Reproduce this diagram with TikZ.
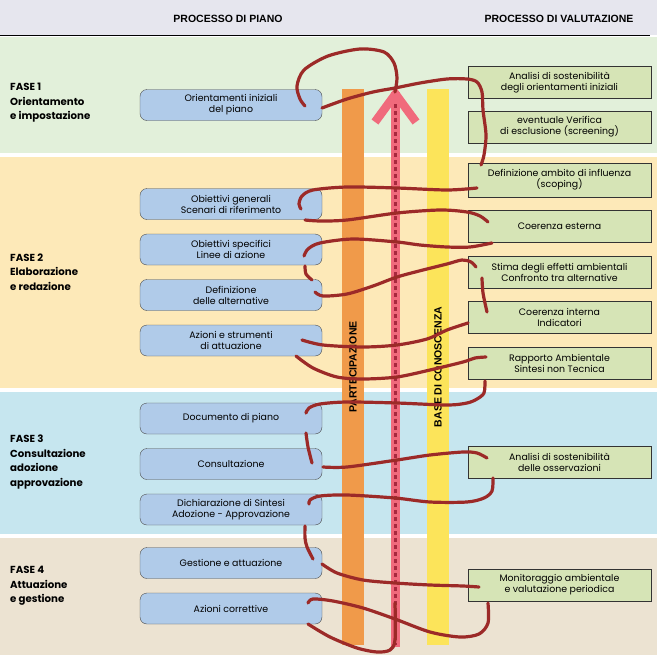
\documentclass[tikz,border=0pt]{standalone}
\usepackage{fontspec}
\setmainfont{Poppins}
\newfontfamily\titlefont{Liberation Sans}
\usetikzlibrary{positioning}

\definecolor{headgrey}{HTML}{E6E6EE}
\definecolor{fase1col}{HTML}{E2F0DA}
\definecolor{fase2col}{HTML}{FDE9B8}
\definecolor{fase3col}{HTML}{C6E6EF}
\definecolor{fase4col}{HTML}{ECE3D2}
\definecolor{pianoblue}{HTML}{B0CBE9}
\definecolor{valutgreen}{HTML}{D6E4B6}
\definecolor{barorange}{HTML}{F09A4A}
\definecolor{baryellow}{HTML}{FCE45A}
\definecolor{arrowpink}{HTML}{F06A7C}
\definecolor{dotred}{HTML}{A8283E}
\definecolor{spiralred}{HTML}{9C2A28}

\tikzstyle{piano} = [rectangle, rounded corners=7pt, minimum width=182pt, minimum height=31pt, align=center, inner sep=1pt, draw=black!70, fill=pianoblue, font=\fontsize{9.4}{11}\selectfont]
\tikzstyle{valut} = [rectangle, minimum width=183pt, minimum height=32pt, align=center, inner sep=1pt, draw=black!80, fill=valutgreen, font=\fontsize{9.4}{11}\selectfont]
\tikzstyle{fase} = [anchor=west, align=left, inner sep=0pt, font=\bfseries\fontsize{10.2}{14.5}\selectfont]
\tikzstyle{titolo} = [inner sep=0pt, font=\titlefont\bfseries\fontsize{10.5}{12}\selectfont]
\tikzstyle{barra} = [rotate=90, minimum width=556pt, minimum height=22pt, inner sep=0pt, font=\titlefont\bfseries\fontsize{10.5}{12}\selectfont]
\tikzstyle{spirale} = [spiralred, line width=3.2pt, line cap=round, line join=round]

\begin{document}
\begin{tikzpicture}[x=1pt, y=-1pt, node distance=45.5pt]
\useasboundingbox (0,0) rectangle (662,659);

% fasce
\fill [headgrey] (0,0) rectangle (657,35);
\fill [fase1col] (0,37) rectangle (657,153);
\fill [fase2col] (0,157) rectangle (657,388);
\fill [fase3col] (0,392) rectangle (657,534);
\fill [fase4col] (0,538) rectangle (657,655);
\draw [line width=1pt] (0,35) -- (650,35);

\node (titpiano) [titolo] at (228,19) {PROCESSO DI PIANO};
\node (titvalut) [titolo] at (559,19) {PROCESSO DI VALUTAZIONE};

\node (fase1) [fase] at (10,103) {FASE 1\\Orientamento\\e impostazione};
\node (fase2) [fase] at (10,272) {FASE 2\\Elaborazione\\e redazione};
\node (fase3) [fase] at (10,462) {FASE 3\\Consultazione\\adozione\\approvazione};
\node (fase4) [fase] at (10,586) {FASE 4\\Attuazione\\e gestione};

% barre verticali
\node (partecip) [barra, fill=barorange] at (353,367) {PARTECIPAZIONE};
\node (conosc) [barra, fill=baryellow] at (438,367) {BASE DI CONOSCENZA};
\draw [arrowpink, line width=9pt] (395.5,647) -- (395.5,92);
\draw [dotred, line width=2.6pt, dash pattern=on 3.5pt off 3.5pt] (395.5,97) -- (395.5,645);
\draw [arrowpink, line width=8.5pt, miter limit=20] (375,122) -- (395.5,94) -- (416,122);

% processo di piano
\node (orient) [piano] at (231,105) {Orientamenti iniziali\\del piano};
\node (obgen) [piano] at (231,204) {Obiettivi generali\\Scenari di riferimento};
\node (obspec) [piano, below of=obgen] {Obiettivi specifici\\Linee di azione};
\node (altern) [piano, below of=obspec] {Definizione\\delle alternative};
\node (azioni) [piano, below of=altern] {Azioni e strumenti\\di attuazione};
\node (documento) [piano] at (231,418.5) {Documento di piano};
\node (consult) [piano, below of=documento] {Consultazione};
\node (dichiar) [piano, below of=consult] {Dichiarazione di Sintesi\\Adozione - Approvazione};
\node (gestione) [piano] at (231,563) {Gestione e attuazione};
\node (correttive) [piano, below of=gestione] {Azioni correttive};

% processo di valutazione
\node (sostenib) [valut] at (559.5,82.5) {Analisi di sostenibilità\\degli orientamenti iniziali};
\node (screening) [valut, below of=sostenib, node distance=44.5pt] {eventuale Verifica\\di esclusione (screening)};
\node (scoping) [valut, minimum height=34pt] at (559.5,180) {Definizione ambito di influenza\\(scoping)};
\node (esterna) [valut, below of=scoping, node distance=46.5pt] {Coerenza esterna};
\node (stima) [valut, below of=esterna] {Stima degli effetti ambientali\\Confronto tra alternative};
\node (interna) [valut, below of=stima] {Coerenza interna\\Indicatori};
\node (rapporto) [valut, below of=interna] {Rapporto Ambientale\\Sintesi non Tecnica};
\node (osserv) [valut] at (559.5,462.5) {Analisi di sostenibilità\\delle osservazioni};
\node (monitor) [valut] at (559.5,585) {Monitoraggio ambientale\\e valutazione periodica};

% spirale
\draw [spirale] plot [smooth] coordinates {(305,106) (300,99) (297,86) (304,70) (328,56) (360,49) (384,52) (394,63) (397,78) (395,92)};
\draw [spirale] plot [smooth] coordinates {(322,108) (347,99) (373,92) (395,88) (420,83) (447,79) (467,79) (477,82) (482,92) (483,110) (486,135) (484,155) (481,165)};
\draw [spirale] plot [smooth] coordinates {(477,188) (447,190) (397,188) (347,187) (313,190) (302,196) (299,204) (301,209)};
\draw [spirale] plot [smooth] coordinates {(305,220) (320,221) (347,220) (397,213) (440,210) (467,212) (480,216) (488,222)};
\draw [spirale] plot [smooth] coordinates {(492,243) (470,247) (447,247) (420,245) (397,242) (353,239) (320,243) (308,249) (304,256)};
\draw [spirale] plot [smooth] coordinates {(305,266) (306,274) (312,280)};
\draw [spirale] plot [smooth] coordinates {(315,292) (323,296) (347,294) (373,286) (397,277) (423,270) (447,264) (462,260) (471,262) (476,267)};
\draw [spirale] plot [smooth] coordinates {(482,278) (483,293) (487,312)};
\draw [spirale] plot [smooth] coordinates {(468,323) (447,330) (427,339) (397,345) (363,347) (323,345) (302,340)};
\draw [spirale] plot [smooth] coordinates {(296,356) (313,368) (337,377) (363,379) (397,377) (430,370) (463,362) (475,358) (486,357)};
\draw [spirale] plot [smooth] coordinates {(485,381) (484,393) (477,399) (467,403) (447,405) (397,403) (347,402) (320,404) (309,408) (306,413)};
\draw [spirale] plot [smooth] coordinates {(306,433) (308,447) (312,463)};
\draw [spirale] plot [smooth] coordinates {(323,467) (347,467) (397,460) (430,455) (463,452) (477,453) (487,458)};
\draw [spirale] plot [smooth] coordinates {(493,478) (492,491) (484,498) (467,502) (430,502) (395,498) (347,495) (320,496) (310,500) (309,504)};
\draw [spirale] plot [smooth] coordinates {(305,526) (305,538) (307,547) (313,559)};
\draw [spirale] plot [smooth] coordinates {(322,564) (337,573) (363,580) (395,583) (430,585) (463,586) (479,587)};
\draw [spirale] plot [smooth] coordinates {(488,603) (488,623) (479,634) (460,637) (430,632) (395,619) (363,608) (333,601) (313,599) (308,603)};
\draw [spirale] plot [smooth] coordinates {(308,624) (330,637) (357,648) (377,652) (390,650) (395,640) (395,603)};

\end{tikzpicture}
\end{document}
